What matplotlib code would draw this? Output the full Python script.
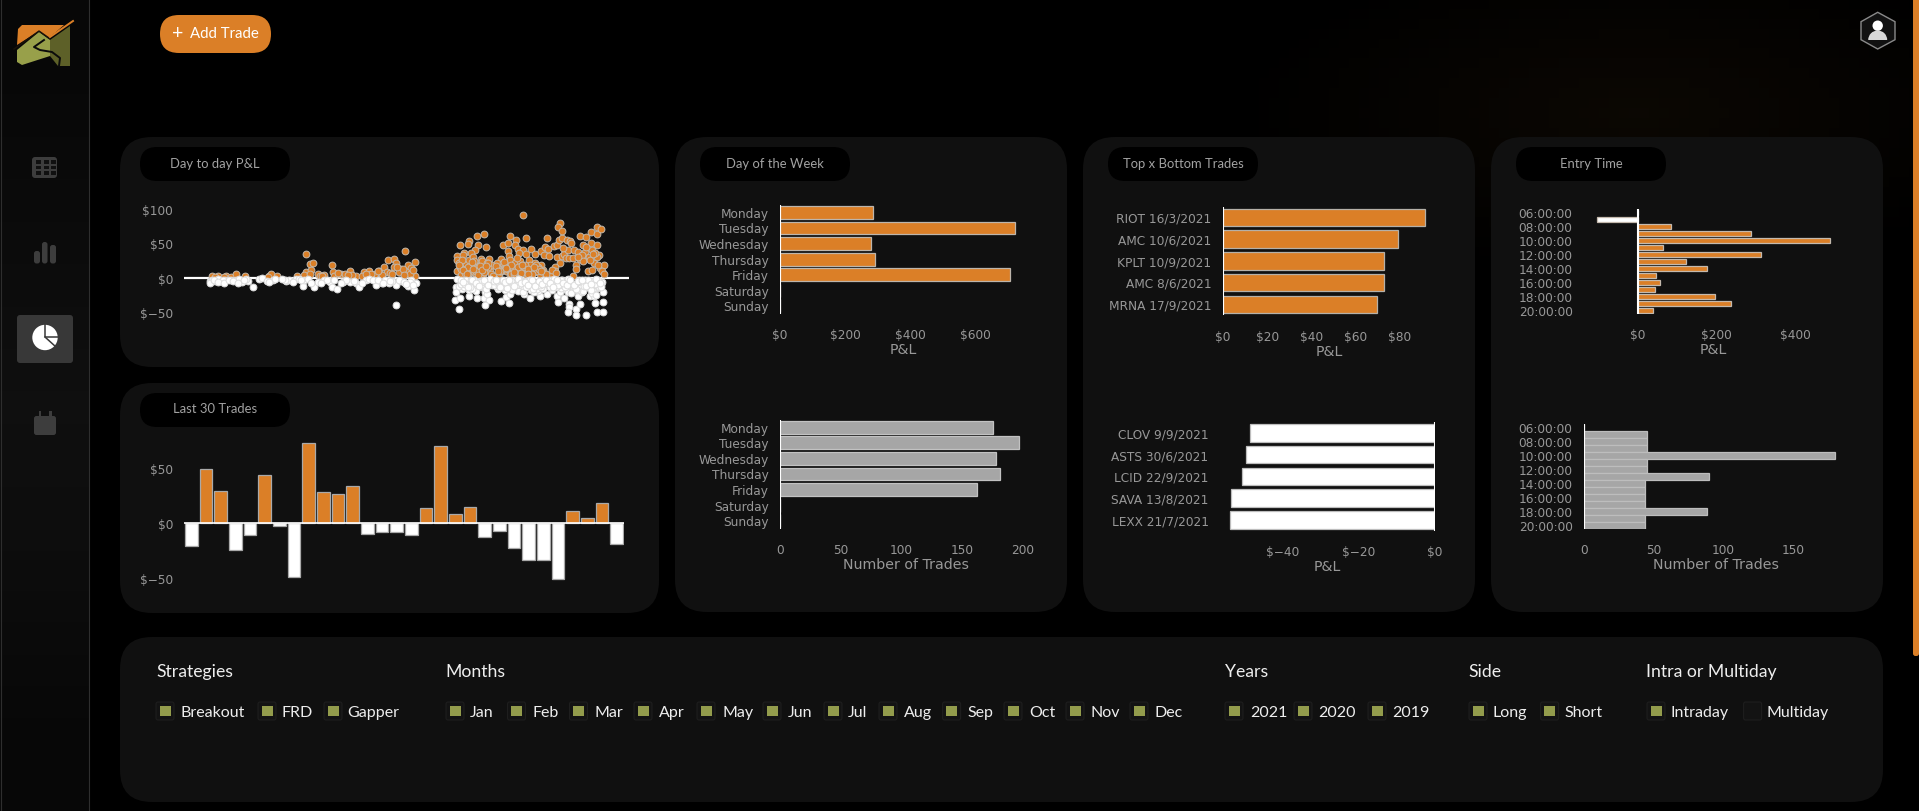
import numpy as np
import matplotlib
matplotlib.use("Agg")
import matplotlib.pyplot as plt
from matplotlib.patches import FancyBboxPatch, Polygon, Circle, Wedge, Rectangle
from matplotlib.transforms import ScaledTranslation

W, H = 1919, 812
ORANGE = "#db7f27"
PANEL = "#101010"
TICK = "#989898"
UI_FONT = "Lato"

# ==============================================================================
# DATA
# ==============================================================================
win_days = [262, 280, 303, 315, 330, 357, 425, 430, 447, 503, 270, 295, 420,
            530, 540, 549, 530, 545, 603, 563, 580, 607, 630, 655, 672, 694, 710, 738, 753, 763,
            781, 787, 813, 839, 821, 780, 800, 795, 830, 815, 840, 760, 725, 660, 640, 610, 570, 525,
            745, 770, 805, 825, 835, 690, 715,
            1149, 1037, 1017, 993, 990, 969, 1042, 1020, 1010, 1000, 980, 960, 960, 978, 1028, 1050,
            960, 968, 985, 1000, 1012, 1028, 1040, 1055, 998, 1015, 1035, 1058, 972, 990,
            965, 975, 995, 1005, 1022, 1032, 1045, 1060, 985, 1008, 1018, 1048,
            1090, 1105, 1111, 1128, 1125, 1135, 1148, 1157, 1105, 1108, 1085, 1075, 1080, 1095, 1110,
            1125, 1140, 1137, 1157, 1172, 1183, 1165, 1182, 1200, 1100, 1120, 1140, 1158, 1175, 1195,
            1215, 1080, 1110, 1135, 1160, 1090, 1102, 1118, 1130, 1145, 1152, 1168, 1178, 1190, 1205,
            1085, 1097, 1115, 1128, 1142, 1155, 1170, 1188,
            1217, 1200, 1212, 1218, 1208, 1222, 1237, 1245, 1250, 1260, 1252, 1248, 1258, 1272, 1282,
            1245, 1258, 1253, 1240, 1238, 1232, 1290, 1265, 1275, 1262, 1285, 1270, 1278,
            1292, 1305, 1290, 1310, 1300, 1298, 1310, 1328, 1342, 1358, 1360, 1370, 1320, 1342, 1358,
            1325, 1345, 1365, 1330, 1350, 1358, 1332, 1345, 1368, 1378, 1372, 1378, 1315, 1335, 1352,
            1318, 1338, 1362, 1305, 1328, 1348,
            970, 982, 992, 1003, 1013, 1025, 1037, 1047, 1062, 1072, 1083, 1093, 1103, 1113, 1123, 1133,
            1143, 1153, 1163, 1173, 1185, 1193, 1203, 1213, 1230, 1242, 966, 978, 988, 1006, 1019, 1031,
            1043, 1078, 1099, 1122, 1144, 1162, 1180, 1198, 540, 575, 620, 650, 700, 735, 775, 790, 808]
win_pnl = [2, 2, 2, 1, 6, 3, 3, 5, 2, 2, 1, 1, 1,
           34, 20, 22, 8, 11, 19, 5, 4, 8, 5, 9, 2, 8, 9, 10, 15, 26,
           27, 22, 38, 23, 19, 15, 12, 8, 14, 8, 3, 8, 5, 4, 6, 3, 2, 4,
           4, 7, 13, 5, 11, 3, 6,
           91, 63, 60, 53, 49, 47, 45, 48, 40, 36, 36, 31, 26, 33, 27, 27,
           9, 15, 20, 18, 14, 20, 12, 10, 8, 6, 5, 5, 4, 4,
           22, 25, 26, 30, 17, 24, 21, 19, 13, 24, 10, 16,
           48, 51, 60, 55, 48, 42, 40, 57, 38, 32, 27, 21, 13, 17, 25,
           21, 24, 36, 34, 42, 34, 26, 22, 19, 9, 11, 14, 9, 12, 6,
           4, 5, 4, 5, 3, 22, 14, 16, 29, 19, 12, 18, 8, 15, 11,
           9, 12, 6, 8, 10, 16, 5, 10,
           58, 39, 45, 41, 33, 31, 46, 48, 55, 57, 80, 73, 67, 55, 53,
           30, 31, 21, 15, 9, 4, 2, 34, 40, 43, 50, 29, 28,
           40, 37, 28, 27, 18, 12, 60, 59, 66, 63, 73, 70, 48, 50, 48,
           37, 40, 33, 28, 22, 30, 10, 11, 14, 18, 9, 5, 33, 30, 36,
           24, 26, 18, 30, 45, 35,
           12, 7, 16, 23, 9, 17, 8, 22, 3, 17, 9, 23, 14, 19, 6, 16,
           7, 18, 12, 5, 19, 13, 9, 6, 11, 7, 19, 11, 6, 13, 4, 11,
           17, 9, 14, 8, 18, 6, 16, 9, 6, 3, 7, 4, 6, 9, 5, 16, 4]

loss_days = [257, 270, 285, 300, 315, 330, 347, 365, 380, 395, 405, 418, 435, 262, 278, 292, 340, 360, 440,
             472, 480, 500, 522, 525, 552, 565, 580, 597, 603, 618, 635, 655, 672, 682, 700, 728, 745,
             765, 785, 786, 800, 812, 820, 838, 842, 830, 470, 510, 590, 645, 710, 720, 755, 775, 795, 825, 835,
             960, 957, 958, 953, 968, 966, 975, 993, 1005, 1016, 1030, 1040, 1038, 1050, 1041, 1045,
             975, 990, 1010, 1025, 1050, 1060, 1078, 1085, 1098, 1100, 1112, 1108, 1082, 1095, 1115, 1130,
             1150, 1167, 1145, 1160, 1175, 1185, 1195, 1215, 1230, 1245, 1248, 1280, 1278, 1275, 1298, 1300,
             1310, 1328, 1305, 1265, 1285, 1340, 1352, 1358, 1375, 1375, 1377, 1350, 1370, 1200, 1220, 1240,
             1260, 1280, 1300, 1320, 1340, 1358, 1225, 1265, 1290, 1310, 1330, 1360, 1155, 1170, 1120, 1140,
             965, 980, 995, 1020, 1035, 1058, 1072, 1090, 1105, 1125, 1138, 1152, 1165, 1180, 1192, 1208,
             1222, 1235, 1252, 1272, 1295, 1315, 1335, 1348, 1365, 985, 1000, 1015, 1068, 1075, 1110, 1135,
             1178, 1205, 1238, 1255, 1270, 1318, 1345, 1372, 970, 1003, 1028, 1065, 1088, 1118, 1158, 1188,
             1212, 1242, 1258, 1275, 1292, 1325, 1355, 1368, 1148, 1172, 1198, 1228, 1250, 1285, 1302, 1338,
             972, 984, 996, 1007, 1018, 1029, 1042, 1054, 1066, 1079, 1092, 1102, 1114, 1127, 1136, 1147,
             1156, 1168, 1176, 1187, 1196, 1206, 1217, 1226, 1237, 1249, 1257, 1268, 1277, 1288, 1299, 1308,
             1321, 1332, 1343, 1353, 1362, 1371, 978, 991, 1002, 1013, 1024, 1037, 1048, 1071, 1083, 1097,
             1107, 1122, 1133, 1143, 1153, 1163, 1174, 1183, 1193, 1203, 1214, 1224, 1233, 1246, 1262, 1273,
             1283, 1294, 1306, 1316, 1328, 1341, 1356, 1367, 255, 268, 280, 295, 310, 322, 335, 352,
             425, 462, 492, 515, 535, 545, 572, 610, 628, 665, 690, 735, 750, 770, 808, 815]
loss_pnl = [-5, -5, -5, -4, -3, -3, -6, -5, -14, -2, -1, -5, -3, -3, -2, -3, -2, -2, -2,
            -5, -3, -2, -12, -3, -13, -6, -3, -6, -14, -16, -6, -6, -8, -13, -3, -10, -7,
            -8, -10, -39, -5, -8, -12, -18, -8, -3, -4, -2, -4, -3, -2, -4, -3, -5, -3, -6, -11,
            -2, -13, -21, -32, -30, -45, -16, -27, -15, -29, -14, -20, -30, -32, -40, -24,
            -8, -10, -7, -5, -8, -10, -17, -34, -18, -28, -24, -37, -5, -7, -10, -16,
            -24, -29, -8, -12, -6, -15, -26, -24, -18, -26, -35, -38, -43, -50, -45, -54,
            -38, -54, -26, -29, -20, -27, -37, -49, -50, -35, -20, -27, -10, -8, -10, -6,
            -8, -6, -10, -8, -5, -5, -4, -16, -14, -15, -14, -15, -5, -18, -4, -3,
            -12, -14, -18, -12, -9, -6, -3, -11, -13, -7, -11, -15, -3, -9, -19, -13,
            -12, -3, -20, -13, -17, -20, -11, -19, -13, -4, -3, -19, -6, -13, -16, -19,
            -21, -16, -11, -15, -11, -19, -22, -6, -9, -17, -12, -10, -14, -18, -7, -17,
            -8, -14, -4, -21, -9, -4, -25, -7, -21, -11, -14, -3, -10, -22, -18, -12,
            -4, -9, -14, -3, -11, -6, -16, -2, -5, -12, -3, -15, -5, -10, -2, -7,
            -13, -4, -16, -7, -11, -3, -8, -14, -2, -10, -4, -13, -2, -9, -17, -3,
            -12, -3, -18, -9, -3, -13, -6, -14, -3, -8, -12, -4, -10, -3, -14, -6,
            -4, -12, -2, -8, -6, -10, -3, -12, -5, -9, -3, -7, -13, -4, -8, -11,
            -3, -11, -5, -3, -12, -9, -2, -7, -7, -4, -6, -7, -3, -5, -7, -4,
            -6, -2, -6, -4, -2, -8, -8, -4, -7, -5, -8, -3, -7, -5, -6, -9]

last30_pnl = [-21, 49, 29, -25, -11, 44, -3, -49, 73, 28, 26, 34, -10, -8.5, -8.5,
              -10.5, 14, 70, 8.5, 15, -12.5, -7, -22.5, -34, -34, -51, 11, 5, 18, -19]

weekdays = ["Monday", "Tuesday", "Wednesday", "Thursday", "Friday", "Saturday", "Sunday"]
weekday_pnl = [286, 721, 278, 292, 707, 0, 0]
weekday_trades = [175, 197, 177.5, 181, 162.5, 0, 0]

top_trades = ["RIOT 16/3/2021", "AMC 10/6/2021", "KPLT 10/9/2021", "AMC 8/6/2021", "MRNA 17/9/2021"]
top_pnl = [91.5, 79.3, 72.9, 72.9, 70]
bottom_trades = ["CLOV 9/9/2021", "ASTS 30/6/2021", "LCID 22/9/2021", "SAVA 13/8/2021", "LEXX 21/7/2021"]
bottom_pnl = [-48.5, -49.6, -50.6, -53.3, -53.6]

entry_hours = ["%02d:00:00" % h for h in range(6, 21)]
entry_pnl = [0, -104, 84, 287, 489, 64, 312, 122, 175, 46, 57, 45, 196, 236, 40]
entry_trades = [0, 45, 45, 45, 180, 45, 45, 90, 44, 44, 44, 44, 88, 44, 44]

filter_heads = ["Strategies", "Months", "Years", "Side", "Intra or Multiday"]
filter_labels = ["Breakout", "FRD", "Gapper", "Jan", "Feb", "Mar", "Apr", "May", "Jun", "Jul", "Aug", "Sep",
                 "Oct", "Nov", "Dec", "2021", "2020", "2019", "Long", "Short", "Intraday", "Multiday"]
filter_checked = [True] * 21 + [False]

# layout of the filter row, in screen pixels
head_x = [156, 445, 1225, 1468, 1646]
box_x = [156, 258, 324, 446, 507.5, 569.5, 634, 697, 763, 824, 879, 942.6, 1004, 1066, 1130,
         1225, 1294, 1368, 1469, 1540.6, 1647, 1743.6]
label_x = [181, 281.5, 347.5, 470, 532, 594, 658.6, 722, 788, 848, 904, 967, 1029, 1091, 1154,
           1250, 1318, 1392, 1493, 1564, 1670, 1767]

fig = plt.figure(figsize=(W / 100, H / 100), dpi=100, facecolor="black")


def place(left, top, right, bottom):
    # axes positioned with screen pixels
    ax = fig.add_axes([left / W, 1 - bottom / H, (right - left) / W, (bottom - top) / H])
    ax.patch.set_alpha(0)
    for s in ax.spines.values():
        s.set_visible(False)
    return ax


def rbox(ax, x0, y0, x1, y1, r, color, **kw):
    ax.add_patch(FancyBboxPatch((x0 + r, y0 + r), x1 - x0 - 2 * r, y1 - y0 - 2 * r,
                                boxstyle="round,pad=%f,rounding_size=%f" % (r, r),
                                fc=color, ec=kw.pop("ec", "none"), lw=kw.pop("lw", 0), **kw))


def nudge_ylabels(ax):
    # browser text sits a bit higher than matplotlib's
    up = ScaledTranslation(0, 0.6 / 100, fig.dpi_scale_trans)
    for lab in ax.get_yticklabels():
        lab.set_transform(lab.get_transform() + up)


# ==============================================================================
# PAGE CHROME
# ==============================================================================
bg = fig.add_axes([0, 0, 1, 1])
bg.set_xlim(0, W)
bg.set_ylim(H, 0)
bg.axis("off")

# faint warm glow behind the top right corner
gx, gy = np.meshgrid(np.linspace(0, W, 192), np.linspace(0, H, 82))
glow = np.clip(1 - np.hypot((gx - 1640) / 420, (gy - 110) / 170), 0, 1)
bg.imshow(np.dstack([glow * 0.045, glow * 0.03, glow * 0.012]), extent=(0, W, H, 0), aspect="auto", zorder=0)

# sidebar
shade = np.array([0.03, 0.045, 0.06, 0.05, 0.03]).reshape(-1, 1)
bg.imshow(np.dstack([shade, shade, shade]), extent=(0, 89, H, 0), aspect="auto", zorder=0.5,
          interpolation="bilinear")
bg.set_xlim(0, W)
bg.set_ylim(H, 0)
bg.plot([89, 89], [0, H], color="#2e2e2e", lw=0.8)
bg.plot([0.5, 0.5], [0, H], color="#2e2e2e", lw=0.8)

# logo
bg.add_patch(Polygon([(18, 30), (22, 26), (64, 26), (49, 39), (39, 32), (17, 46)], fc=ORANGE, ec="none"))
bg.add_patch(Polygon([(17, 51), (39, 33), (50, 41), (50, 57), (22, 66), (17, 63)], fc="#98a04a", ec="none"))
bg.add_patch(Polygon([(50, 41), (70, 27), (70, 67), (58, 67), (50, 57)], fc="#5d6028", ec="none"))
bg.plot([14, 39, 49, 73], [50, 32, 39, 22], color="#1a1208", lw=1)
bg.plot([50, 73], [38, 22], color=ORANGE, lw=1.4)
bg.plot([44, 34, 40, 52, 60, 59], [41, 48, 51, 53, 59, 67], color="#0b0b0b", lw=1.4)

# menu icons
rbox(bg, 32, 158, 57, 179, 3, "#3d3d3d")
for cx in (36, 44, 51):
    for cy in (161, 166.5, 172):
        bg.add_patch(Rectangle((cx, cy), 5, 3.5, fc="#101010", ec="none"))
rbox(bg, 34, 252, 40, 264.5, 2.5, "#3d3d3d")
rbox(bg, 42, 243, 47.5, 264.5, 2.5, "#3d3d3d")
rbox(bg, 50, 246, 56, 264.5, 2.5, "#3d3d3d")
rbox(bg, 17, 316, 73, 364, 3, "#383838")
bg.add_patch(Circle((45, 338.5), 12.7, fc="white", ec="none"))
bg.plot([45, 45, 58.5], [325, 338, 338], color="#383838", lw=1.1)
bg.plot([45, 56], [338, 348], color="#383838", lw=1.1)
rbox(bg, 34, 417, 56, 436, 2.5, "#3d3d3d")
bg.add_patch(Rectangle((38.5, 412), 2.5, 6, fc="#3d3d3d", ec="none"))
bg.add_patch(Rectangle((49, 412), 2.5, 6, fc="#3d3d3d", ec="none"))

# add trade button
rbox(bg, 160, 16, 271, 54, 19, ORANGE)
bg.text(177.7, 33.5, "+", color="white", fontsize=14, family=UI_FONT, ha="center", va="center")
bg.text(190, 34, "Add Trade", color="white", fontsize=10.8, family=UI_FONT, ha="left", va="center")

# avatar
bg.add_patch(Polygon([(1877.7, 13.3), (1895, 22.7), (1895, 40.7), (1877.7, 50), (1861, 40.7), (1861, 22.7)],
                     fc="#111111", ec="#8a8a8a", lw=1))
bg.add_patch(Circle((1877.7, 26.7), 5.2, fc="white", ec="none"))
bg.add_patch(Wedge((1877.7, 41), 9.5, 180, 360, fc="#d8d8d8", ec="none"))

# scrollbar
rbox(bg, 1913, -10, 1919, 657, 2.5, ORANGE)

# panels
panels = [(120, 138, 659, 368), (120, 384, 659, 614), (675, 138, 1067, 613), (1083, 138, 1475, 613),
          (1491, 138, 1883, 613), (120, 638, 1883, 803)]
for p in panels:
    rbox(bg, p[0], p[1], p[2], p[3], 32, PANEL)

pill_x = [140, 140, 700, 1108, 1516]
pill_y = [148, 394, 148, 148, 148]
pill_titles = ["Day to day P&L", "Last 30 Trades", "Day of the Week", "Top x Bottom Trades", "Entry Time"]
for px, py, title in zip(pill_x, pill_y, pill_titles):
    rbox(bg, px, py, px + 150, py + 34, 17, "black")
    bg.text(px + 75, py + 15.5, title, color="#a2a2a2", fontsize=9.4, family=UI_FONT, ha="center", va="center")

# filters
for x, head in zip(head_x, filter_heads):
    bg.text(x, 672, head, color="#eeeeee", fontsize=12.7, family=UI_FONT, ha="left", va="center")
for bx, lx, name, on in zip(box_x, label_x, filter_labels, filter_checked):
    rbox(bg, bx, 703, bx + 18, 721, 2, "#131313", ec="#1e1e1e", lw=0.8)
    if on:
        bg.add_patch(Rectangle((bx + 3.5, 706.7), 11, 10.3, fc="#939c4c", ec="none"))
    bg.text(lx, 713.5, name, color="#eeeeee", fontsize=11.5, family=UI_FONT, ha="left", va="center")


# ==============================================================================
# CHARTS
# ==============================================================================
def money(v):
    return ("$\u2212%d" % abs(v)) if v < 0 else "$%d" % v


def hbar(box, labels, values, xlim, ticks, tick_text, color, edge, xlabel, bar_h, tick_y, label_y):
    ax = place(*box)
    rows = np.arange(len(labels))
    bar_colors = ["white" if v < 0 else color for v in values]
    ax.barh(rows, values, height=bar_h, color=bar_colors, edgecolor=edge, linewidth=0.9, zorder=2)
    ax.axvline(0, color="white", lw=1.5, zorder=3)
    ax.set_xlim(*xlim)
    ax.set_ylim(len(labels) - 0.5, -0.5)
    ax.set_yticks(rows, labels)
    ax.set_xticks(ticks, tick_text)
    tick_pad = (tick_y - box[3] - 4.5) * 0.72
    ax.tick_params(axis="y", length=0, pad=8.2, labelsize=8.7, labelcolor=TICK)
    ax.tick_params(axis="x", length=0, pad=tick_pad, labelsize=8.7, labelcolor=TICK)
    nudge_ylabels(ax)
    ax.text(0.5, 1 - (label_y - box[1]) / (box[3] - box[1]), xlabel, transform=ax.transAxes, color=TICK,
            fontsize=10.2, ha="center", va="center")
    return ax


# day to day scatter
ax = place(184, 198, 629, 340)
ax.scatter(win_days, win_pnl, s=24, color=ORANGE, edgecolor="#c2b8ac", linewidth=0.7, zorder=3)
ax.scatter(loss_days, loss_pnl, s=24, color="white", edgecolor="#dcdcdc", linewidth=0.7, zorder=4)
ax.axhline(0, color="white", lw=1.6, zorder=2)
ax.set_xlim(182, 1450)
ax.set_ylim((278.7 - 340) / 0.69, (278.7 - 198) / 0.69)
ax.set_xticks([])
ax.set_yticks([-50, 0, 50, 100], [money(v) for v in [-50, 0, 50, 100]])
ax.tick_params(axis="y", length=0, pad=8, labelsize=8.7, labelcolor=TICK)

# last 30 trades
ax = place(184, 435, 624, 595)
trade_no = np.arange(1, 31)
ax.bar(trade_no, last30_pnl, width=0.86, color=[ORANGE if v > 0 else "white" for v in last30_pnl],
       edgecolor="#a9a9a9", linewidth=0.9, zorder=2)
ax.axhline(0, color="white", lw=1.2, zorder=3)
ax.set_xlim(0.5, 30.5)
ax.set_ylim((524 - 595) / 1.097, (524 - 435) / 1.097)
ax.set_xticks([])
ax.set_yticks([-50, 0, 50], [money(v) for v in [-50, 0, 50]])
ax.tick_params(axis="y", length=0, pad=8, labelsize=8.7, labelcolor=TICK)

# day of the week
hbar((780, 205.8, 1027.4, 314.5), weekdays, weekday_pnl, (0, 759), [0, 200, 400, 600],
     [money(v) for v in [0, 200, 400, 600]], ORANGE, "#bdb5ab", "P&L", 0.82, 333.7, 350)
hbar((780, 420.5, 1032, 529.5), weekdays, weekday_trades, (0, 207.4), [0, 50, 100, 150, 200],
     ["0", "50", "100", "150", "200"], "#a6a6a6", "#c2c2c2", "Number of Trades", 0.82, 548.7, 565)

# top / bottom trades
hbar((1223, 207.5, 1435, 316.2), top_trades, top_pnl, (0, 96.2), [0, 20, 40, 60, 80],
     [money(v) for v in [0, 20, 40, 60, 80]], ORANGE, "#b5b0a8", "P&L", 0.8, 335.7, 352.3)
hbar((1220, 423, 1435, 531.7), bottom_trades, bottom_pnl, (-56.3, 0), [-40, -20, 0],
     [money(v) for v in [-40, -20, 0]], "white", "#bdbdbd", "P&L", 0.8, 550.7, 567.3)

# entry time
ticks_shown = [h if i % 2 == 0 else "" for i, h in enumerate(entry_hours)]
hbar((1584, 210, 1843, 315), ticks_shown, entry_pnl, (-136.3, 521), [0, 200, 400],
     [money(v) for v in [0, 200, 400]], ORANGE, "#c4b9ad", "P&L", 0.85, 333.7, 350)
hbar((1584, 425, 1848, 530), ticks_shown, entry_trades, (0, 189.5), [0, 50, 100, 150],
     ["0", "50", "100", "150"], "#a6a6a6", "#bdbdbd", "Number of Trades", 0.95, 548.7, 565)

fig.savefig("out.png", dpi=100, facecolor="black")
